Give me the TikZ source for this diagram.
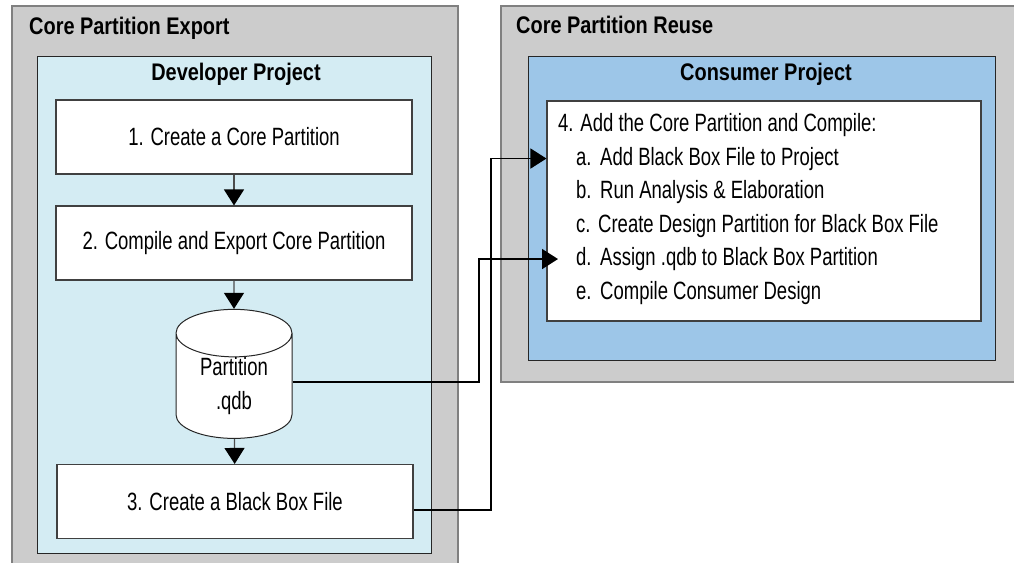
\documentclass[tikz,border=0pt]{standalone}
\usepackage{fontspec}
\setmainfont{Liberation Sans}[FakeStretch=0.74, BoldFeatures={FakeStretch=0.83}]
\usetikzlibrary{shapes.geometric, arrows.meta, positioning, calc}

\definecolor{areagray}{HTML}{CCCCCC}
\definecolor{areaedge}{HTML}{808080}
\definecolor{devblue}{HTML}{D4ECF3}
\definecolor{conblue}{HTML}{9DC6E8}

\begin{document}
\begin{tikzpicture}[
    x=1pt, y=-1pt,
    area/.style={fill=areagray, draw=areaedge, line width=1.3pt},
    project/.style={draw=black!85, line width=1pt},
    stepbox/.style={draw=black!75, fill=white, line width=1.1pt, minimum width=356pt, minimum height=74pt, inner sep=0pt, font=\fontsize{25}{30}\selectfont},
    db/.style={draw=black!85, fill=white, line width=1pt, cylinder, shape border rotate=90, aspect=0.7, minimum width=116pt, minimum height=123pt, inner sep=0pt, align=center, font=\fontsize{25}{34}\selectfont},
    head text/.style={font=\bfseries\fontsize{24}{28}\selectfont, inner sep=0pt},
    item/.style={anchor=base west, inner sep=0pt, font=\fontsize{25}{28}\selectfont},
    flow/.style={draw=black!70, line width=1.2pt, -{Triangle[length=16pt, width=20pt, color=black]}},
    link/.style={draw=black, line width=1.6pt, -{Triangle[length=16pt, width=20pt]}}
]
\useasboundingbox (0,0) rectangle (1014,562);

% Export side
\fill[areagray] (12,6) rectangle (458,563);
\draw[areaedge, line width=1.3pt] (12,563) -- (12,6) -- (458,6) -- (458,563);
\node[head text, anchor=base west] (exporttitle) at (29,34) {Core Partition Export};
\filldraw[fill=devblue, project] (37,56) rectangle (431,553);
\node[head text, anchor=base] (devtitle) at (236,80) {Developer Project};

\node[stepbox] (create) at (234,137) {1. Create a Core Partition};
\node[stepbox] (export) at (234,243) {2. Compile and Export Core Partition};
\node[db] (qdb) at (234,386) {Partition\\.qdb};
\node[stepbox] (blackbox) at (235,501.5) {3. Create a Black Box File};

\draw[flow] (create) -- (export);
\draw[flow] (export) -- (qdb);
\draw[flow] (qdb) -- (blackbox);

% Reuse side
\fill[areagray] (501,6) rectangle (1015,382);
\draw[areaedge, line width=1.3pt] (1015,6) -- (501,6) -- (501,382) -- (1015,382);
\node[head text, anchor=base west] (reusetitle) at (516,33) {Core Partition Reuse};
\filldraw[fill=conblue, project] (528,56) rectangle (995,360);
\node[head text, anchor=base] (contitle) at (766,80) {Consumer Project};

\node[draw=black!75, fill=white, line width=1.1pt, minimum width=434pt, minimum height=220pt, inner sep=0pt] (steps) at (764,211) {};
\node[item] (stepfour) at (558,131) {4. Add the Core Partition and Compile:};
\node[item] (itema) at (576,165) {\makebox[24pt][l]{a.}Add Black Box File to Project};
\node[item] (itemb) at (576,198.5) {\makebox[24pt][l]{b.}Run Analysis \& Elaboration};
\node[item] (itemc) at (576,232) {\makebox[22pt][l]{c.}Create Design Partition for Black Box File};
\node[item] (itemd) at (576,265.5) {\makebox[24pt][l]{d.}Assign .qdb to Black Box Partition};
\node[item] (iteme) at (576,299) {\makebox[24pt][l]{e.}Compile Consumer Design};

% Links between the projects
\coordinate (tipa) at ($(steps.west |- itema.center)+(0,0)$);
\coordinate (tipd) at ($(itemd.west |- itemd.center)+(-18,0)$);
\draw[link] ([yshift=4pt]qdb.east) -| (479,0 |- tipd) -- (tipd);
\draw[link] ([yshift=-8.5pt]blackbox.east) -| (491,0 |- tipa) -- (tipa);

\end{tikzpicture}
\end{document}
